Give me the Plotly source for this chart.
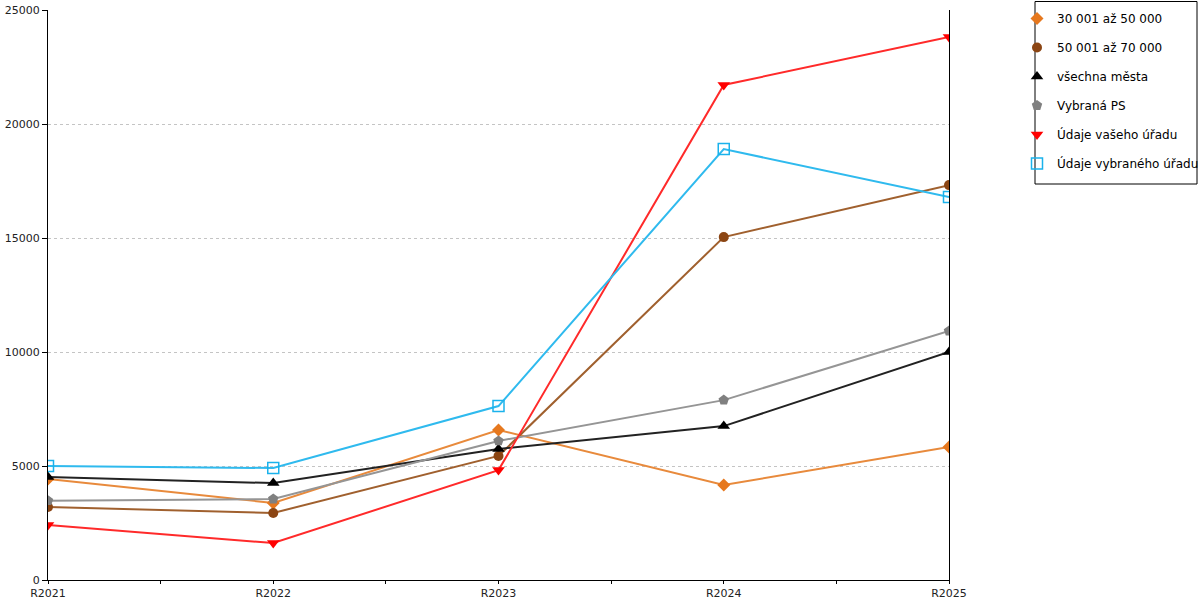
import plotly.graph_objects as go

categories = ["R2021", "R2022", "R2023", "R2024", "R2025"]

series_names = ["30 001 až 50 000", "50 001 až 70 000", "všechna města",
                "Vybraná PS", "Údaje vašeho úřadu", "Údaje vybraného úřadu"]

v_30_50 = [4430, 3380, 6580, 4170, 5830]
v_50_70 = [3200, 2940, 5440, 15040, 17320]
v_all = [4520, 4250, 5750, 6750, 10000]
v_ps = [3480, 3550, 6100, 7890, 10920]
v_yours = [2410, 1620, 4820, 21710, 23820]
v_selected = [5000, 4910, 7630, 18900, 16800]

y_ticks = [0, 5000, 10000, 15000, 20000, 25000]
y_ticktext = ["0", "5000", "10000", "15000", "20000", "25000"]

values = [v_30_50, v_50_70, v_all, v_ps, v_yours, v_selected]
colors = ["#E6781E", "#8B4513", "#000000", "#808080", "#FF0000", "#1AB2EC"]
line_colors = ["#E88A3C", "#A0602E", "#222222", "#959595", "#FF2A2A", "#2FBAEE"]
symbols = ["diamond", "circle", "triangle-up", "pentagon", "triangle-down", "square-open"]
sizes = [10, 10, 11, 11, 11, 11]

xs = list(range(len(categories)))

W, H = 1200, 600
L, T = 48, 10
R = W - 949
B = H - 580
PW = W - L - R
PH = H - T - B


def px_x(x_page):
    return (x_page - L) / PW


def px_y(y_page):
    return (H - B - y_page) / PH


fig = go.Figure()
for i, (name, vals, c, lc, s, sz) in enumerate(zip(series_names, values, colors, line_colors, symbols, sizes)):
    mline = dict(color=c, width=1.5 if s == "square-open" else 0)
    fig.add_trace(go.Scatter(
        x=xs, y=vals, name=name, mode="lines+markers",
        line=dict(color=lc, width=2),
        marker=dict(color=c, symbol=s, size=sz, line=mline),
        showlegend=False, legendgroup=f"g{i}",
    ))
    # legend entry showing only the marker
    fig.add_trace(go.Scatter(
        x=[None], y=[None], name=name, mode="markers",
        marker=dict(color=c, symbol=s, size=sz, line=mline),
        showlegend=True, legendgroup=f"g{i}", hoverinfo="skip",
    ))

font = dict(family="DejaVu Sans", size=11, color="#222222")

fig.add_shape(type="rect", xref="paper", yref="paper",
              x0=px_x(1035), x1=px_x(1197), y0=px_y(184), y1=px_y(1.5),
              line=dict(color="#000000", width=1), fillcolor="rgba(0,0,0,0)",
              layer="above")

fig.update_layout(
    width=W, height=H,
    margin=dict(l=L, r=R, t=T, b=B, autoexpand=False),
    plot_bgcolor="white", paper_bgcolor="white",
    font=font,
    showlegend=True,
    legend=dict(
        x=px_x(1017), y=px_y(4), xanchor="left", yanchor="top",
        borderwidth=0, bgcolor="rgba(0,0,0,0)",
        font=dict(family="DejaVu Sans", size=12, color="#000000"),
        tracegroupgap=10, itemwidth=30, itemsizing="trace",
    ),
    xaxis=dict(
        range=[0, len(categories) - 1],
        tickmode="array", tickvals=xs, ticktext=categories,
        showgrid=False, zeroline=False,
        showline=True, linecolor="#000000", linewidth=1,
        ticks="outside", ticklen=3, tickcolor="#000000",
        minor=dict(tickmode="array", tickvals=[0.5, 1.5, 2.5, 3.5],
                   ticks="outside", ticklen=3, tickcolor="#000000"),
        tickfont=font,
    ),
    xaxis2=dict(
        overlaying="x", anchor="y", side="bottom",
        range=[0, len(categories) - 1],
        tickmode="linear", tick0=0, dtick=0.5,
        ticks="inside", ticklen=3, tickcolor="#000000",
        showticklabels=False, showgrid=False, zeroline=False, showline=False,
    ),
    yaxis=dict(
        range=[0, 25000],
        tickmode="array", tickvals=y_ticks, ticktext=y_ticktext,
        showgrid=True, gridcolor="#C4C4C4", griddash="3px,3px", gridwidth=1,
        zeroline=False,
        showline=True, linecolor="#000000", linewidth=1, mirror=True,
        ticks="outside", ticklen=5, tickcolor="#000000",
        tickfont=font,
    ),
)

fig.write_html("out.html", config={"displayModeBar": False},
               post_script="document.body.style.margin='0';")
